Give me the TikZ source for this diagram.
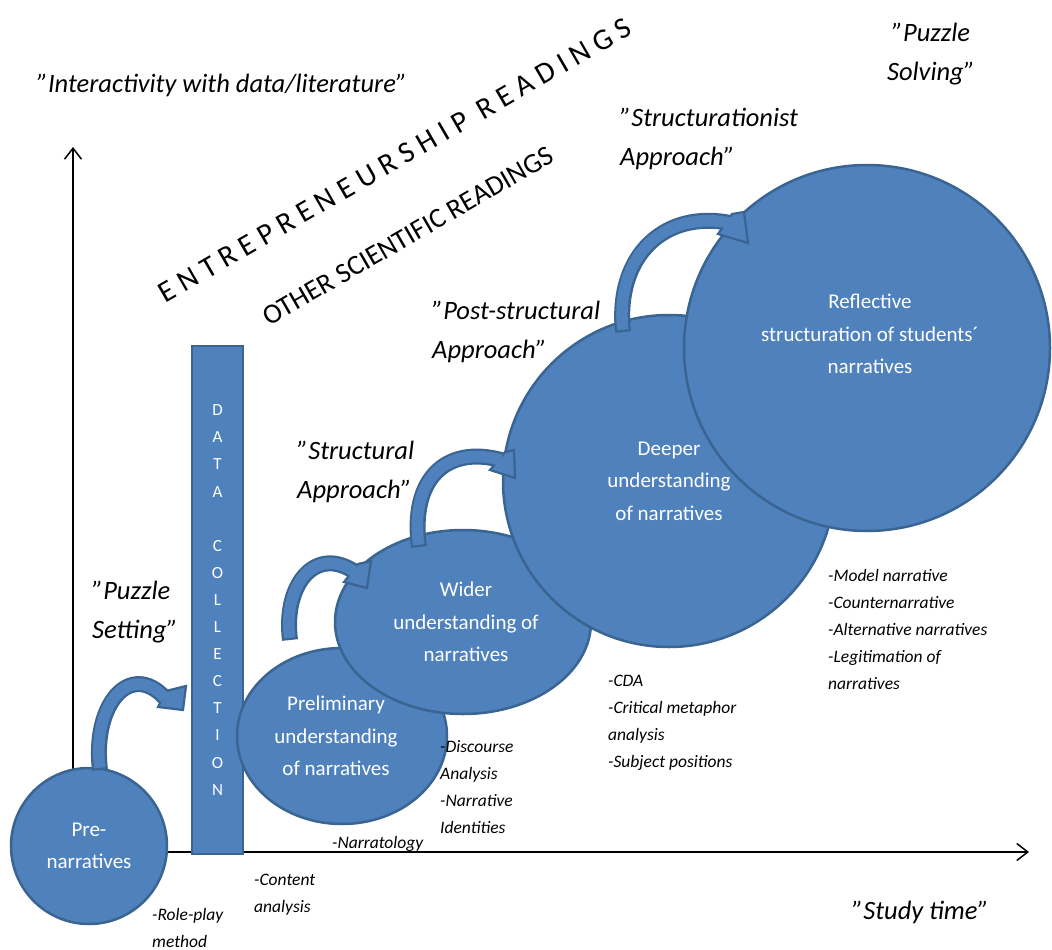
\documentclass[tikz,border=0pt]{standalone}
\usepackage{fontspec}
\setmainfont{Carlito}
\usetikzlibrary{shapes.geometric,arrows.meta,calc}
\definecolor{fillc}{HTML}{4F81BD}
\definecolor{bord}{HTML}{3A6491}
\newcommand{\bandarrow}[8]{%
  % #1 start, #2 c1, #3 c2, #4 band end, #5..#8 head polygon
  \draw[line width=16pt, draw=bord] #1 .. controls #2 and #3 .. #4;
  \filldraw[fill=fillc, draw=bord, line width=2.2pt, line join=miter] #5 -- #6 -- #7 -- #8 -- cycle;
  \draw[line width=11.5pt, draw=fillc, shorten <=2.2pt] #1 .. controls #2 and #3 .. #4;
}
\begin{document}
\begin{tikzpicture}[x=1pt,y=-1pt,
  bubble/.style={fill=fillc, draw=bord, line width=2.5pt, text=white,
    font=\fontsize{21}{32.5}\selectfont, align=center, inner sep=0pt},
  whitetext/.style={text=white, font=\fontsize{21}{32.5}\selectfont, align=center, inner sep=0pt},
  axis/.style={line width=1.5pt, -{Straight Barb[length=11pt,width=17pt]}},
  bigq/.style={font=\fontsize{26.5}{39}\selectfont\itshape, align=left, inner sep=0pt},
  smallq/.style={font=\fontsize{17.5}{27}\selectfont\itshape, align=left, inner sep=0pt, anchor=west},
]
\useasboundingbox (0,0) rectangle (1052,950);

% axes
\coordinate (origin) at (73,852);
\coordinate (ytop) at (73,147);
\coordinate (xend) at (1029,852);
\draw[axis] (origin) -- (ytop);
\draw[axis] (origin) -- (xend);

% shapes
\node[bubble, circle, minimum size=156pt] (pre) at (89,846) {Pre-\\narratives};
\node[bubble, rectangle, minimum width=51pt, minimum height=508pt,
      font=\fontsize{17}{27.1}\selectfont] (data) at (217.5,600)
      {D\\A\\T\\A\\[27.1pt]C\\O\\L\\L\\E\\C\\T\\I\\O\\N};
\node[bubble, ellipse, minimum width=210pt, minimum height=176pt] (prelim) at (342,736) {};
\node[whitetext] (prelimtext) at ($(prelim)+(-6,0)$)
      {Preliminary\\understanding\\of narratives};
\node[bubble, ellipse, minimum width=256pt, minimum height=184pt] (wider) at (463,622) {};
\node[whitetext] (widertext) at ($(wider)+(3,0)$)
      {Wider\\understanding of\\narratives};
\node[bubble, circle, minimum size=332pt] (deeper) at (669,481)
      {Deeper\\understanding\\of narratives};
\node[bubble, circle, minimum size=366pt] (refl) at (867,348) {};
\node[whitetext] (refltext) at ($(refl)+(3,-14)$)
      {Reflective\\structuration of students´\\narratives};

% curved block arrows
\coordinate (a1s) at (100,770);
\coordinate (a2s) at (290,640);
\coordinate (a3s) at (419,547);
\coordinate (a4s) at (623,332);
\bandarrow{(a1s)}{(92,705)}{(130,660)}{(165,698)}{(166,691)}{(186,686)}{(183,710)}{(158,707)}
\bandarrow{(a2s)}{(283,585)}{(315,545)}{(355,572)}{(358,564)}{(371,561)}{(367,588)}{(344,582)}
\bandarrow{(a3s)}{(410,480)}{(445,445)}{(501,460)}{(505,452)}{(514,450)}{(515,478)}{(490,470)}
\bandarrow{(a4s)}{(615,255)}{(665,210)}{(730,223)}{(732,214)}{(744,212)}{(748,243)}{(718,234)}

% rotated readings
\node[rotate=30, font=\fontsize{30}{30}\selectfont, inner sep=0pt] (ent) at (395,160)
      {E N T R E P R E N E U R S H I P\ \ R E A D I N G S};
\node[rotate=30, font=\fontsize{28}{28}\selectfont, inner sep=0pt] (other) at (408,236)
      {OTHER SCIENTIFIC READINGS};

% big quoted labels
\node[bigq] (inter) at (222,85) {”Interactivity with data/literature”};
\node[bigq, align=center] (solve) at (931,54) {”Puzzle\\Solving”};
\node[bigq, anchor=west] (structist) at (620,139) {”Structurationist\\Approach”};
\node[bigq, anchor=west] (poststr) at (432,332) {”Post-structural\\Approach”};
\node[bigq, anchor=west] (str) at (297,472) {”Structural\\Approach”};
\node[bigq, anchor=west] (setting) at (92,612) {”Puzzle\\Setting”};
\node[bigq, anchor=west] (study) at (852,912) {”Study time”};

% method labels
\node[smallq] (role) at (152,927.5) {-Role-play\\method};
\node[smallq] (content) at (254,895) {-Content\\analysis};
\node[smallq] (narratology) at (332,844) {-Narratology};
\node[smallq] (disc) at (440,787) {-Discourse\\Analysis\\-Narrative\\Identities};
\node[smallq] (cda) at (608,722.5) {-CDA\\-Critical metaphor\\analysis\\-Subject positions};
\node[smallq] (model) at (828,629) {-Model narrative\\-Counternarrative\\-Alternative narratives\\-Legitimation of\\narratives};
\end{tikzpicture}
\end{document}
